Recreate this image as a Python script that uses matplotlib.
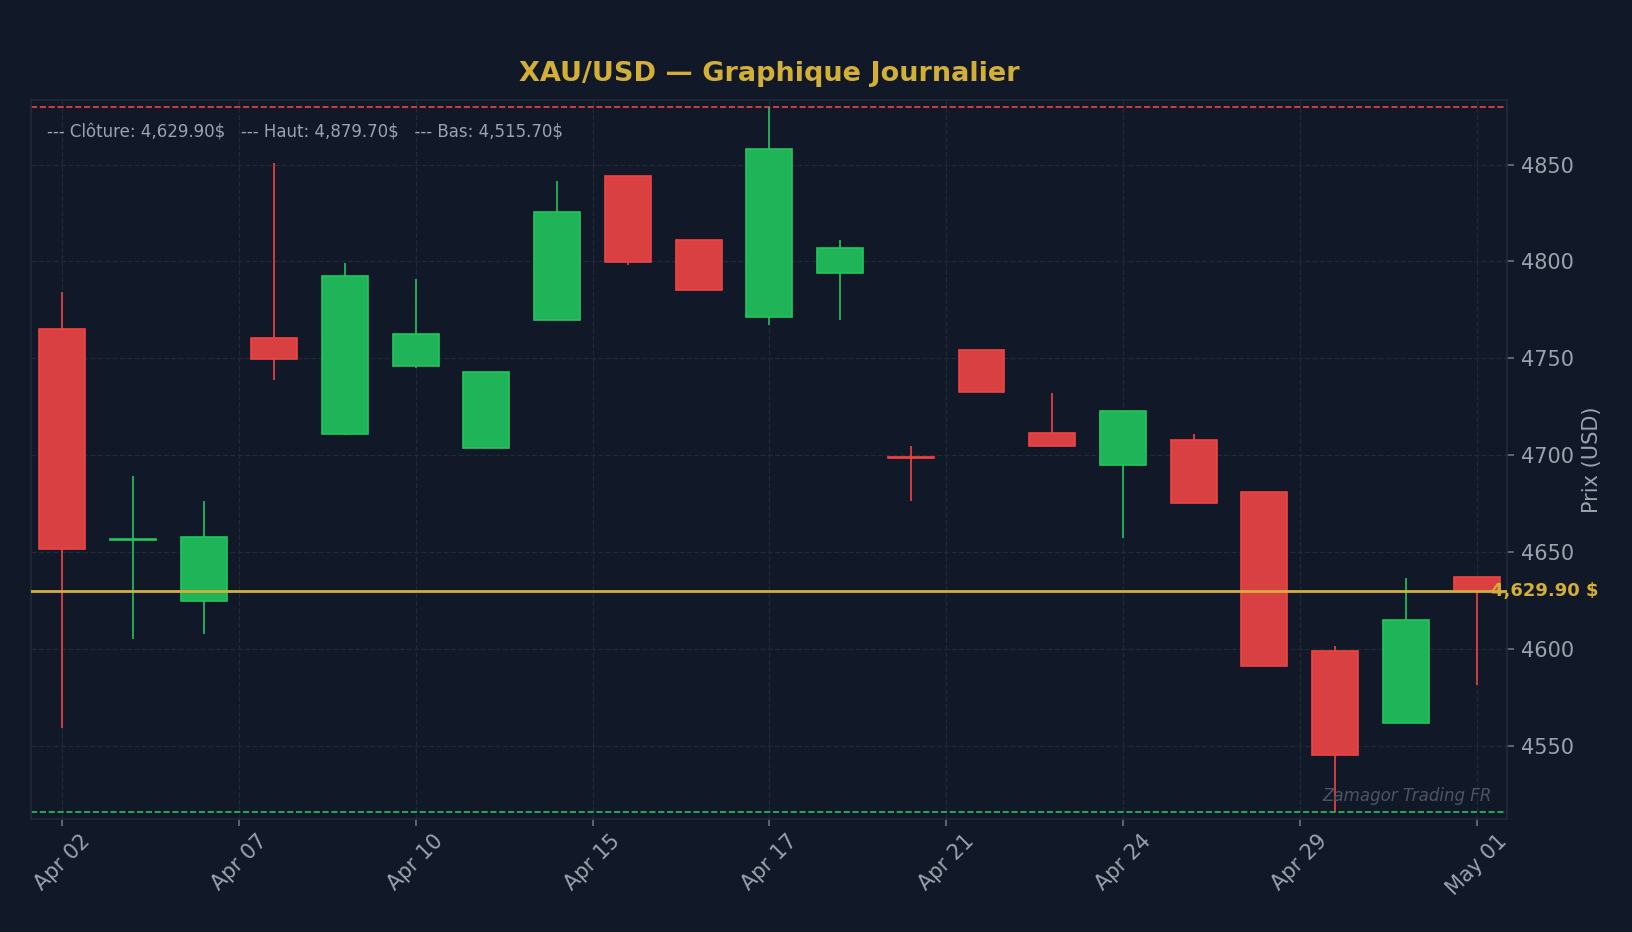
import matplotlib
matplotlib.use("Agg")
import matplotlib.pyplot as plt
import matplotlib.transforms as mtransforms
import matplotlib.colors as mcolors
import numpy as np

# daily XAU/USD candles
dates = ["Apr 02", "Apr 06", "Apr 07", "Apr 08", "Apr 09", "Apr 10", "Apr 13",
         "Apr 14", "Apr 15", "Apr 16", "Apr 17", "Apr 20", "Apr 21", "Apr 22",
         "Apr 23", "Apr 24", "Apr 27", "Apr 28", "Apr 29", "Apr 30", "May 01"]
opens = [4765.0, 4656.3, 4624.5, 4760.2, 4710.9, 4745.9, 4703.5,
         4769.9, 4843.9, 4810.9, 4771.3, 4794.2, 4698.8, 4754.5,
         4711.6, 4694.8, 4707.7, 4681.1, 4598.7, 4561.6, 4636.9]
highs = [4784.3, 4689.2, 4676.3, 4850.7, 4799.3, 4791.0, 4742.8,
         4841.7, 4843.9, 4810.9, 4879.7, 4811.1, 4704.8, 4754.5,
         4732.1, 4722.5, 4711.0, 4681.1, 4601.2, 4636.4, 4636.9]
lows = [4558.9, 4605.2, 4607.8, 4739.0, 4710.5, 4745.2, 4703.5,
        4769.9, 4798.0, 4785.2, 4767.4, 4770.0, 4676.5, 4732.7,
        4704.6, 4657.4, 4675.1, 4590.9, 4515.7, 4561.6, 4581.4]
closes = [4651.3, 4656.7, 4657.5, 4749.7, 4792.4, 4762.3, 4742.8,
          4825.3, 4799.7, 4785.2, 4857.9, 4806.8, 4698.5, 4732.7,
          4704.6, 4722.5, 4675.1, 4590.9, 4544.9, 4614.7, 4629.9]

BG = "#111827"
GRID = "#1f2937"
TXT = "#9ca3af"
GOLD = "#d4af37"
UP = "#22c55e"
DOWN = "#ef4444"


def blend(col, a=0.9):
    # body fill = colour at 90% over the background, but opaque
    c1 = np.array(mcolors.to_rgb(col))
    c0 = np.array(mcolors.to_rgb(BG))
    return tuple(a * c1 + (1 - a) * c0)


o = np.array(opens)
h = np.array(highs)
l = np.array(lows)
c = np.array(closes)
x = np.arange(len(dates))

last_close = c[-1]
hi = h.max()
lo = l.min()
rng = hi - lo

fig = plt.figure(figsize=(16.33, 9.32), dpi=100, facecolor=BG)
ax = fig.add_axes([0.019, 0.1212, 0.9038, 0.7715])
ax.set_facecolor(BG)

up = c >= o
edge = [UP if u else DOWN for u in up]
fill = [blend(UP) if u else blend(DOWN) for u in up]

# wicks
ax.vlines(x, l, h, colors=edge, linewidth=1.2, zorder=2)

# bodies
body_bottom = np.minimum(o, c)
body_h = np.maximum(np.abs(c - o), 0.05)
ax.bar(x, body_h, bottom=body_bottom, width=0.65, color=fill,
       edgecolor=edge, linewidth=1.2, zorder=3)

# reference lines
ax.axhline(hi, color=DOWN, linestyle="--", linewidth=1.2, zorder=1)
ax.axhline(lo, color=UP, linestyle="--", linewidth=1.2, zorder=1)
ax.axhline(last_close, color=GOLD, linestyle="-", linewidth=2, zorder=4)

trans = mtransforms.blended_transform_factory(ax.transAxes, ax.transData)
ax.text(0.989, last_close, f"{last_close:,.2f} $", transform=trans,
        color=GOLD, fontsize=13, fontweight="bold", ha="left", va="center",
        clip_on=False, zorder=5)

ax.text(0.011, 0.955,
        f"--- Clôture: {last_close:,.2f}$   --- Haut: {hi:,.2f}$   --- Bas: {lo:,.2f}$",
        transform=ax.transAxes, color=TXT, fontsize=12, ha="left", va="center")

ax.text(0.99, 0.02, "Zamagor Trading FR", transform=ax.transAxes,
        color="#4b5563", fontsize=12, style="italic", ha="right", va="bottom")

# axes
ax.set_xlim(-0.44, len(dates) - 1 + 0.43)
ax.set_ylim(lo - rng * 0.01, hi + rng * 0.01)

ticks = np.arange(0, len(dates), 2.5)
ax.set_xticks(ticks)
ax.set_xticklabels([dates[int(round(t))] for t in ticks], rotation=45)

ax.yaxis.tick_right()
ax.yaxis.set_label_position("right")
ax.set_ylabel("Prix (USD)", color=TXT, fontsize=15, labelpad=6)

ax.tick_params(axis="both", colors="#6b7280", labelcolor=TXT, labelsize=15,
               length=5, width=1.2)
ax.tick_params(axis="y", pad=5)

ax.grid(True, color=GRID, linestyle="--", linewidth=1.0)
ax.set_axisbelow(True)
for sp in ax.spines.values():
    sp.set_color(GRID)
    sp.set_linewidth(1.2)

ax.set_title("XAU/USD — Graphique Journalier", color=GOLD, fontsize=19.5,
             fontweight="bold", pad=14)

fig.savefig("out.png", dpi=100, facecolor=BG)
